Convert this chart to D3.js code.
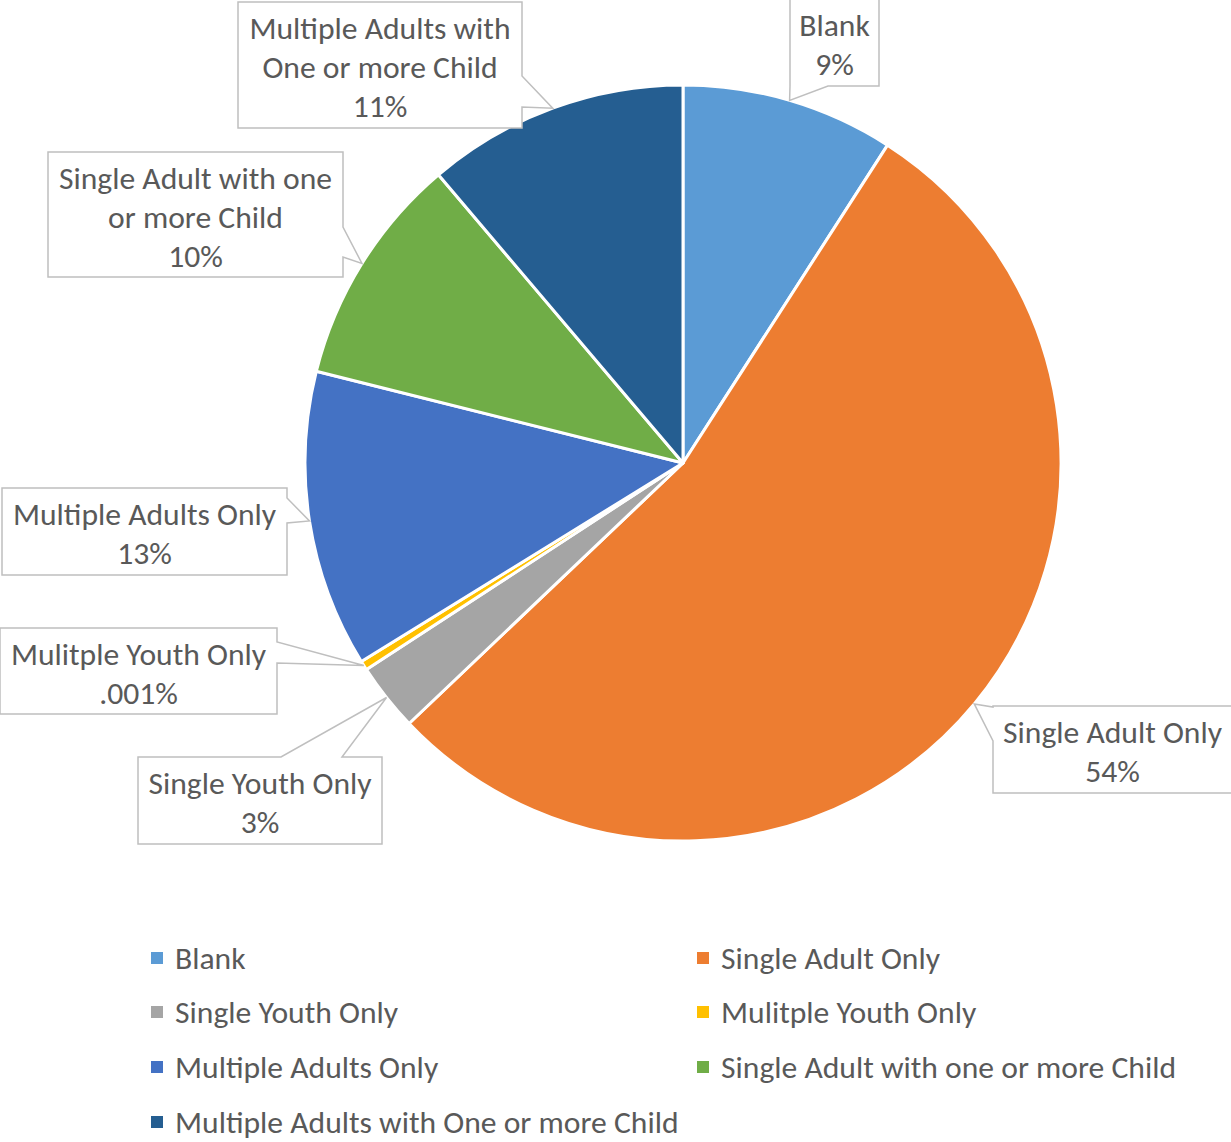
<!DOCTYPE html>
<html>
<head>
<meta charset="utf-8">
<script src="https://cdn.jsdelivr.net/npm/d3@7"></script>
<style>
    body { margin: 0; background: #fff; }
    svg text { font-family: Calibri, Carlito, Lato, sans-serif; fill: #595959; }
</style>
</head>
<body>
<svg id="chart" width="1231" height="1142"></svg>
<script>
// categories in pie order (clockwise from 12 o'clock)
var categories = ['Blank', 'Single Adult Only', 'Single Youth Only', 'Mulitple Youth Only',
    'Multiple Adults Only', 'Single Adult with one or more Child', 'Multiple Adults with One or more Child'];
var shares = [9.1, 53.8, 2.9, 0.4, 12.7, 9.9, 11.2];
var pctLabels = ['9%', '54%', '3%', '.001%', '13%', '10%', '11%'];
var labelLines = [
    ['Blank'],
    ['Single Adult Only'],
    ['Single Youth Only'],
    ['Mulitple Youth Only'],
    ['Multiple Adults Only'],
    ['Single Adult with one', 'or more Child'],
    ['Multiple Adults with', 'One or more Child']
];
var colors = ['#5B9BD5', '#ED7D31', '#A5A5A5', '#FFC000', '#4472C4', '#70AD47', '#255E91'];

// callout boxes: [x0, y0, x1, y1], side the pointer leaves from, base range on that side
var callouts = [
    {box: [790, -2, 879, 86], side: 'bottom', base: [790, 828]},
    {box: [993, 706, 1232, 793], side: 'left', base: [707, 741]},
    {box: [138, 757, 382, 844], side: 'top', base: [281, 342]},
    {box: [0, 628, 277, 714], side: 'right', base: [642, 663]},
    {box: [2, 488, 287, 575], side: 'right', base: [498, 523]},
    {box: [48, 152, 343, 277], side: 'right', base: [227, 257]},
    {box: [238, 2, 522, 128], side: 'right', base: [76, 107]}
];

var svg = d3.select('#chart');
var cx = 683, cy = 463, radius = 378;

// fit font size so that "Single Adult Only" is as wide as in the original
var probe = svg.append('text').style('font-size', '100px').text('Single Adult Only');
var fontSize = 100 * 219 / probe.node().getComputedTextLength();
probe.remove();
var lineGap = 39;

var pie = d3.pie().sort(null).value(function(d) { return d; });
var arcs = pie(shares);
var arc = d3.arc().innerRadius(0).outerRadius(radius);
var edge = d3.arc().innerRadius(radius).outerRadius(radius);

var g = svg.append('g').attr('transform', 'translate(' + cx + ',' + cy + ')');
g.selectAll('path.slice')
    .data(arcs)
    .enter()
    .append('path')
    .classed('slice', true)
    .attr('d', arc)
    .attr('fill', function(d, i) { return colors[i]; })
    .attr('stroke', '#fff')
    .attr('stroke-width', 3)
    .attr('stroke-linejoin', 'round');

// callout outline: rectangle with a pointer that ends on the slice's outer arc
function calloutPath(c, tip) {
    var x0 = c.box[0], y0 = c.box[1], x1 = c.box[2], y1 = c.box[3];
    var a = c.base[0], b = c.base[1];
    var p = d3.path();
    p.moveTo(x0, y0);
    if (c.side === 'top') { p.lineTo(a, y0); p.lineTo(tip[0], tip[1]); p.lineTo(b, y0); }
    p.lineTo(x1, y0);
    if (c.side === 'right') { p.lineTo(x1, a); p.lineTo(tip[0], tip[1]); p.lineTo(x1, b); }
    p.lineTo(x1, y1);
    if (c.side === 'bottom') { p.lineTo(b, y1); p.lineTo(tip[0], tip[1]); p.lineTo(a, y1); }
    p.lineTo(x0, y1);
    if (c.side === 'left') { p.lineTo(x0, b); p.lineTo(tip[0], tip[1]); p.lineTo(x0, a); }
    p.closePath();
    return p.toString();
}

var labels = svg.append('g');
arcs.forEach(function(d, i) {
    var c = callouts[i];
    var m = edge.centroid(d);
    var tip = [cx + m[0], cy + m[1]];
    labels.append('path')
        .attr('d', calloutPath(c, tip))
        .attr('fill', '#fff')
        .attr('stroke', '#BFBFBF')
        .attr('stroke-width', 1.5);
    var lines = labelLines[i].concat([pctLabels[i]]);
    var midX = (c.box[0] + c.box[2]) / 2;
    var midY = (c.box[1] + c.box[3]) / 2 + 2;
    var top = midY - (lines.length - 1) * lineGap / 2;
    labels.selectAll(null)
        .data(lines)
        .enter()
        .append('text')
        .attr('x', midX)
        .attr('y', function(t, k) { return top + k * lineGap; })
        .attr('dy', '0.35em')
        .attr('text-anchor', 'middle')
        .style('font-size', fontSize + 'px')
        .text(function(t) { return t; });
});

// legend, two columns
var legendCols = [151, 697];
var legendRows = [958, 1012, 1067, 1122];
var legend = svg.append('g');
var items = legend.selectAll('g.item')
    .data(categories)
    .enter()
    .append('g')
    .classed('item', true)
    .attr('transform', function(d, i) {
        return 'translate(' + legendCols[i % 2] + ',' + legendRows[Math.floor(i / 2)] + ')';
    });
items.append('rect')
    .attr('x', 0)
    .attr('y', -6)
    .attr('width', 12)
    .attr('height', 12)
    .attr('fill', function(d, i) { return colors[i]; });
items.append('text')
    .attr('x', 24)
    .attr('dy', '0.35em')
    .style('font-size', fontSize + 'px')
    .text(function(d) { return d; });
</script>
</body>
</html>
